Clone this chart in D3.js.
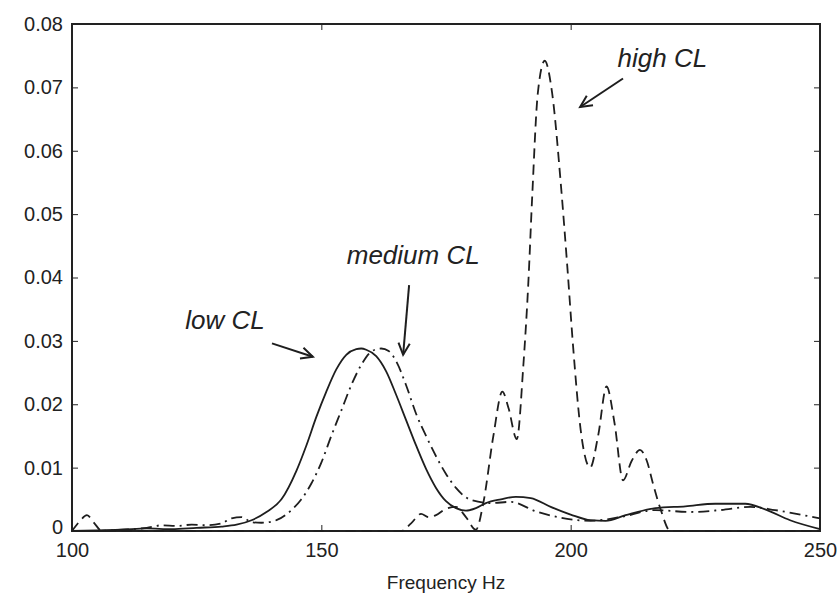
<!DOCTYPE html>
<html>
<head>
<meta charset="utf-8">
<script src="https://cdn.jsdelivr.net/npm/d3@7"></script>
<style>
  html, body { margin: 0; padding: 0; background: #fff; }
  svg { display: block; }
  .axis text { font-family: "Liberation Sans", Arial, sans-serif; font-size: 20px; fill: #222; }
  .axis path, .axis line { stroke: #222; }
  .note { font-family: "Liberation Sans", Arial, sans-serif; font-style: italic; font-size: 26px; fill: #222; }
</style>
</head>
<body>
<script>
// Spectra for three cognitive-load levels (amplitude vs. frequency)
const lowFreq = [100, 105, 110, 115, 120, 125, 130, 133, 136, 139, 142, 145, 147, 149, 151, 153, 155, 157, 158, 159, 161, 163, 165, 167, 169, 171, 173, 175, 177, 179, 181, 183, 186, 189, 192, 196, 200, 204, 207, 211, 217, 223, 229, 235, 239, 244, 250];
const lowVal = [0, 0.0001, 0.0002, 0.0004, 0.0003, 0.0005, 0.0007, 0.001, 0.0017, 0.003, 0.005, 0.0095, 0.0135, 0.018, 0.022, 0.0255, 0.0278, 0.0287, 0.0288, 0.0286, 0.0276, 0.0252, 0.0215, 0.0175, 0.0135, 0.0098, 0.0068, 0.0047, 0.0036, 0.0032, 0.0036, 0.0044, 0.005, 0.0054, 0.0052, 0.0038, 0.0026, 0.0017, 0.0016, 0.0025, 0.0036, 0.0039, 0.0043, 0.0043, 0.0034, 0.0017, 0.0003];

const mediumFreq = [100, 105, 110, 115, 118, 121, 124, 127, 130, 132, 134, 136, 138, 141, 144, 146, 148, 150, 152, 154, 156, 158, 160, 162, 163.5, 165, 167, 169, 171, 173, 175, 177, 180, 184, 188, 193, 198, 204, 210, 217, 224, 230, 236, 241, 248, 250];
const mediumVal = [0, 0, 0.0002, 0.0005, 0.0009, 0.0008, 0.001, 0.0009, 0.0012, 0.002, 0.0022, 0.0014, 0.0013, 0.0017, 0.0033, 0.005, 0.0075, 0.0108, 0.015, 0.019, 0.023, 0.0262, 0.0283, 0.0288, 0.0284, 0.0268, 0.023, 0.0185, 0.015, 0.0118, 0.009, 0.0068, 0.0049, 0.0044, 0.0046, 0.0031, 0.0021, 0.0016, 0.0022, 0.0033, 0.003, 0.0033, 0.0038, 0.0033, 0.0023, 0.002];

const highFreq = [100, 101.5, 103, 104.5, 106, 110, 120, 130, 140, 150, 160, 166, 168, 170, 171.5, 173, 175, 177, 179, 181, 182.5, 184.5, 186.3, 187.5, 189.2, 190.5, 191.5, 192.3, 193.4, 194.8, 196.3, 198, 199.3, 200.5, 202, 203.9, 205.5, 207.2, 208.8, 210.5, 212.2, 213.9, 215.3, 216.5, 218, 220, 225, 235, 250];
const highVal = [0, 0.0015, 0.0025, 0.0012, 0, 0, 0, 0, 0, 0, 0, 0, 0.0012, 0.0027, 0.0022, 0.0025, 0.0035, 0.0038, 0.0022, 0.0002, 0.0045, 0.015, 0.022, 0.0195, 0.0145, 0.026, 0.039, 0.053, 0.069, 0.0742, 0.069, 0.055, 0.042, 0.029, 0.016, 0.01, 0.015, 0.0228, 0.017, 0.008, 0.011, 0.0128, 0.011, 0.0075, 0.0035, 0, 0, 0, 0];

const xTicks = [100, 150, 200, 250];
const yTicks = [0, 0.01, 0.02, 0.03, 0.04, 0.05, 0.06, 0.07, 0.08];
const yTickLabels = ["0", "0.01", "0.02", "0.03", "0.04", "0.05", "0.06", "0.07", "0.08"];
const xLabel = "Frequency Hz";

// Callouts: text, text anchor point, arrow tail (data units) and arrow head (data units)
const noteText = ["low CL", "medium CL", "high CL"];
const noteAt = [[122.7, 0.0319], [155.1, 0.0422], [209.4, 0.0732]];
const arrowFrom = [[140.1, 0.0296], [167.6, 0.0388], [210.5, 0.0714]];
const arrowTo = [[148.3, 0.0275], [166.4, 0.0278], [201.9, 0.0669]];

const W = 840, H = 597;
const margin = { left: 72, right: 20, top: 24, bottom: 66 };

const svg = d3.select("body").append("svg").attr("width", W).attr("height", H);

const x = d3.scaleLinear().domain([100, 250]).range([margin.left, W - margin.right]);
const y = d3.scaleLinear().domain([0, 0.08]).range([H - margin.bottom, margin.top]);

// axes, MATLAB-style: ticks pointing inward on all four sides
const yLab = d3.scaleOrdinal().domain(yTicks).range(yTickLabels);
const yAxisG = svg.append("g").attr("class", "axis")
  .attr("transform", `translate(${margin.left},0)`)
  .call(d3.axisLeft(y).tickValues(yTicks).tickFormat(d => yLab(d)).tickSizeInner(-6).tickSizeOuter(0).tickPadding(9));
// the zero label sits a little higher so it clears the x-axis labels
yAxisG.selectAll(".tick text").filter(d => d === 0).attr("dy", "0.12em");
svg.append("g").attr("class", "axis")
  .attr("transform", `translate(${W - margin.right},0)`)
  .call(d3.axisRight(y).tickValues(yTicks).tickFormat("").tickSizeInner(-6).tickSizeOuter(0));
svg.append("g").attr("class", "axis")
  .attr("transform", `translate(0,${H - margin.bottom})`)
  .call(d3.axisBottom(x).tickValues(xTicks).tickFormat(d3.format("d")).tickSizeInner(-6).tickSizeOuter(0).tickPadding(12));
svg.append("g").attr("class", "axis")
  .attr("transform", `translate(0,${margin.top})`)
  .call(d3.axisTop(x).tickValues(xTicks).tickFormat("").tickSizeInner(-6).tickSizeOuter(0));

svg.append("rect")
  .attr("x", margin.left).attr("y", margin.top)
  .attr("width", W - margin.left - margin.right)
  .attr("height", H - margin.top - margin.bottom)
  .attr("fill", "none").attr("stroke", "#222").attr("stroke-width", 2);

svg.append("text")
  .attr("x", (margin.left + W - margin.right) / 2)
  .attr("y", 589)
  .attr("text-anchor", "middle")
  .style("font-family", "'Liberation Sans', Arial, sans-serif")
  .style("font-size", "19px")
  .style("fill", "#222")
  .text(xLabel);

// curves
const line = d3.line().x(d => x(d[0])).y(d => y(d[1])).curve(d3.curveMonotoneX);
const series = [
  { f: lowFreq, v: lowVal, dash: null },
  { f: mediumFreq, v: mediumVal, dash: "11,5,2,5" },
  { f: highFreq, v: highVal, dash: "10,6" }
];
const plot = svg.append("g");
series.forEach(s => {
  plot.append("path")
    .datum(s.f.map((f, i) => [f, s.v[i]]))
    .attr("d", line)
    .attr("fill", "none")
    .attr("stroke", "#1e1e1e")
    .attr("stroke-width", 1.8)
    .attr("stroke-dasharray", s.dash);
});

// callout labels with open arrowheads
noteText.forEach((t, i) => {
  svg.append("text").attr("class", "note")
    .attr("x", x(noteAt[i][0])).attr("y", y(noteAt[i][1]))
    .text(t);
  const x0 = x(arrowFrom[i][0]), y0 = y(arrowFrom[i][1]);
  const x1 = x(arrowTo[i][0]), y1 = y(arrowTo[i][1]);
  const a = Math.atan2(y1 - y0, x1 - x0);
  const L = 13, spread = 0.45;
  const g = svg.append("g").attr("stroke", "#1e1e1e").attr("stroke-width", 2).attr("fill", "none");
  g.append("line").attr("x1", x0).attr("y1", y0).attr("x2", x1).attr("y2", y1);
  g.append("polyline").attr("points", [
    [x1 - L * Math.cos(a - spread), y1 - L * Math.sin(a - spread)],
    [x1, y1],
    [x1 - L * Math.cos(a + spread), y1 - L * Math.sin(a + spread)]
  ].map(p => p.join(",")).join(" "));
});
</script>
</body>
</html>
